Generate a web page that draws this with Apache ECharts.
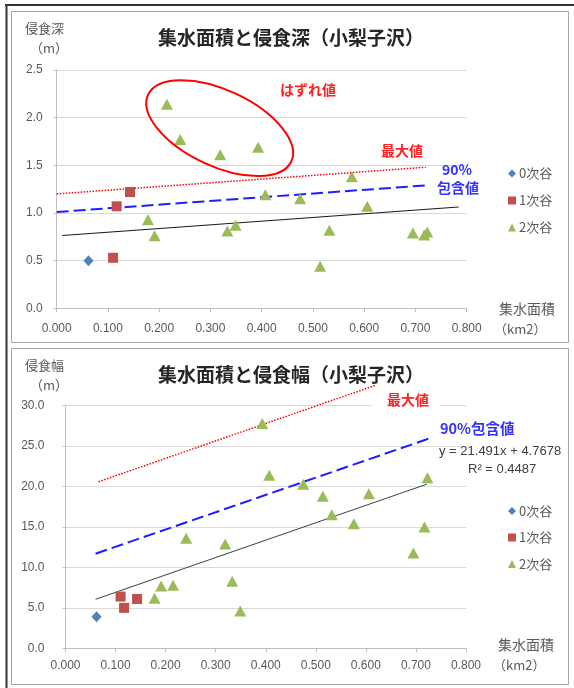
<!DOCTYPE html>
<html><head><meta charset="utf-8">
<script src="https://cdn.jsdelivr.net/npm/echarts@6/dist/echarts.min.js"></script>
<style>html,body{margin:0;padding:0;background:#fff;overflow:hidden}#c{width:574px;height:688px}</style>
</head><body><div id="c"></div>
<script>
// ---- data ----
const seriesNames = ['0次谷', '1次谷', '2次谷'];
const area0 = [0.062];
const depth0 = [0.50];
const width0 = [3.9];
const area1 = [0.110, 0.117, 0.143];
const depth1 = [0.53, 1.07, 1.22];
const width1 = [6.4, 5.0, 6.1];
const area2 = [0.178, 0.191, 0.215, 0.241, 0.319, 0.333, 0.349, 0.393, 0.407, 0.475, 0.514, 0.532, 0.576, 0.606, 0.695, 0.717, 0.723];
const depth2 = [0.93, 0.76, 2.14, 1.77, 1.61, 0.81, 0.87, 1.69, 1.19, 1.15, 0.44, 0.82, 1.38, 1.07, 0.79, 0.77, 0.80];
const width2 = [6.2, 7.7, 7.8, 13.6, 12.9, 8.3, 4.6, 27.8, 21.4, 20.3, 18.8, 16.5, 15.4, 19.1, 11.8, 15.0, 21.1];
// reference lines (end points)
const depthTrend = [[0.011, 0.764], [0.784, 1.063]];
const depthMax = [[0.0, 1.20], [0.720, 1.48]];
const depth90 = [[0.0, 1.01], [0.722, 1.29]];
const widthTrend = [[0.060, 6.06], [0.722, 20.3]];
const widthMax = [[0.066, 20.6], [0.618, 32.5]];
const width90 = [[0.060, 11.7], [0.729, 26.0]];
const titles = ['集水面積と侵食深（小梨子沢）', '集水面積と侵食幅（小梨子沢）'];
const yNames = ['侵食深', '侵食幅'];
const equationText = ['y = 21.491x + 4.7678', 'R² = 0.4487'];

const zip = (xs, ys) => xs.map((x, i) => [x, ys[i]]);
const FONT = '"Noto Sans CJK JP", "Noto Sans", sans-serif';
const NUMFONT = '"Liberation Sans", "Noto Sans", sans-serif';
const LBL = '#595959';
const colors = ['#4F81BD', '#C0504D', '#9BBB59'];
const symbols = ['diamond', 'rect', 'triangle'];
const sizes = [[10, 11], [10, 10], [12, 11]];

const chart = echarts.init(document.getElementById('c'), null, {renderer: 'canvas'});

function xAxis(grid, margin) {
  return {
    type: 'value', gridIndex: grid, min: 0, max: 0.8, interval: 0.1,
    axisLine: {show: true, lineStyle: {color: '#BFBFBF', width: 1}},
    axisTick: {show: true, length: 4, lineStyle: {color: '#BFBFBF'}},
    splitLine: {show: false},
    axisLabel: {formatter: v => v.toFixed(3), color: LBL, fontSize: 12, fontFamily: NUMFONT, margin: margin}
  };
}
function yAxis(grid, max, interval, margin) {
  return {
    type: 'value', gridIndex: grid, min: 0, max: max, interval: interval,
    axisLine: {show: true, lineStyle: {color: '#BFBFBF', width: 1}},
    axisTick: {show: true, length: 3, lineStyle: {color: '#BFBFBF'}},
    splitLine: {show: true, lineStyle: {color: '#D9D9D9', width: 1}},
    axisLabel: {formatter: v => v.toFixed(1), color: LBL, fontSize: 12, fontFamily: NUMFONT, margin: margin}
  };
}
function scatter(name, i, grid, data) {
  return {
    name: name, type: 'scatter', xAxisIndex: grid, yAxisIndex: grid, data: data,
    symbol: symbols[i], symbolSize: sizes[i], z: 5,
    itemStyle: {color: colors[i], opacity: 1}
  };
}
function refLine(grid, data, color, width, type, clip) {
  return {
    type: 'line', xAxisIndex: grid, yAxisIndex: grid, data: data, symbol: 'none',
    silent: true, clip: clip, z: 3,
    lineStyle: {color: color, width: width, type: type}
  };
}
function txt(x, y, s, opt) {
  return {
    type: 'text', x: x, y: y, z: 100,
    style: Object.assign({text: s, fill: LBL, font: '12px ' + FONT, textAlign: 'left', textVerticalAlign: 'middle'}, opt || {})
  };
}
function legend(top, gap) {
  return {data: seriesNames, orient: 'vertical', left: 508, top: top, padding: 0, itemGap: gap,
    itemWidth: 8, itemHeight: 8, selectedMode: false,
    textStyle: {color: LBL, fontSize: 13, fontFamily: FONT, padding: [0, 0, 0, -2]}};
}

const option = {
  animation: false,
  backgroundColor: '#fff',
  grid: [
    {left: 56.7, top: 70, width: 410, height: 238.3},
    {left: 65.5, top: 405.7, width: 400.5, height: 242.6}
  ],
  xAxis: [xAxis(0, 14), xAxis(1, 11)],
  yAxis: [yAxis(0, 2.5, 0.5, 14), yAxis(1, 30, 5, 21)],
  legend: [legend(167, 14), legend(504.5, 13.5)],
  series: [
    refLine(0, depthTrend, '#1A1A1A', 1.2, 'solid', true),
    refLine(0, depthMax, '#FF0000', 1.5, [1.5, 1.5], true),
    refLine(0, depth90, '#1E1EFF', 2, [12, 5], true),
    scatter(seriesNames[0], 0, 0, zip(area0, depth0)),
    scatter(seriesNames[1], 1, 0, zip(area1, depth1)),
    scatter(seriesNames[2], 2, 0, zip(area2, depth2)),
    refLine(1, widthTrend, '#404040', 1, 'solid', true),
    refLine(1, widthMax, '#FF0000', 1.5, [1.5, 1.5], false),
    refLine(1, width90, '#1E1EFF', 2, [12, 5], true),
    scatter(seriesNames[0], 0, 1, zip(area0, width0)),
    scatter(seriesNames[1], 1, 1, zip(area1, width1)),
    scatter(seriesNames[2], 2, 1, zip(area2, width2))
  ]
};
chart.setOption(option);

// annotations placed from data coordinates
const c = chart.convertToPixel({gridIndex: 0}, [0.318, 1.89]);
const graphics = [
  // frames
  {type: 'line', z: 0, shape: {x1: 5, y1: 5, x2: 574, y2: 5}, style: {stroke: '#333', lineWidth: 2}},
  {type: 'line', z: 0, shape: {x1: 6.5, y1: 5, x2: 6.5, y2: 688}, style: {stroke: '#333', lineWidth: 2}},
  {type: 'rect', z: 0, shape: {x: 11.5, y: 11.5, width: 557, height: 331}, style: {fill: null, stroke: '#A6A6A6', lineWidth: 1}},
  {type: 'rect', z: 0, shape: {x: 11.5, y: 348.5, width: 557, height: 336}, style: {fill: null, stroke: '#A6A6A6', lineWidth: 1}},
  // titles
  txt(291, 38, titles[0], {fill: '#262626', font: 'bold 19px ' + FONT, textAlign: 'center'}),
  txt(291, 375, titles[1], {fill: '#262626', font: 'bold 19px ' + FONT, textAlign: 'center'}),
  // y names
  txt(25, 28, yNames[0], {font: '13px ' + FONT}),
  txt(30, 48, '（m）', {font: '13px ' + FONT}),
  txt(25, 365, yNames[1], {font: '13px ' + FONT}),
  txt(30, 385, '（m）', {font: '13px ' + FONT}),
  // x names
  txt(499, 309, '集水面積', {font: '14px ' + FONT}),
  txt(494, 329, '（km2）', {font: '13px ' + FONT}),
  txt(498, 645, '集水面積', {font: '14px ' + FONT}),
  txt(493, 665, '（km2）', {font: '13px ' + FONT}),
  // top annotations
  {type: 'ellipse', z: 50, x: c[0], y: c[1], rotation: -25 * Math.PI / 180,
   shape: {cx: 0, cy: 0, rx: 79, ry: 38}, style: {fill: null, stroke: '#FF0000', lineWidth: 2}},
  txt(280, 90, 'はずれ値', {fill: '#FF2020', font: 'bold 14px ' + FONT}),
  txt(381, 151, '最大値', {fill: '#FF2020', font: 'bold 14px ' + FONT}),
  txt(457, 170, '90%', {fill: '#3333FF', font: 'bold 14px ' + FONT, textAlign: 'center'}),
  txt(458, 188, '包含値', {fill: '#3333FF', font: 'bold 14px ' + FONT, textAlign: 'center'}),
  // bottom annotations
  txt(372, 400, '最大値', {fill: '#FF2020', font: 'bold 14px ' + FONT, backgroundColor: '#fff', padding: [2, 11, 2, 15]}),
  txt(440, 428, '90%包含値', {fill: '#3333FF', font: 'bold 14.5px ' + FONT}),
  txt(439, 451, equationText[0], {fill: '#404040', font: '13px ' + NUMFONT}),
  txt(468, 469, equationText[1], {fill: '#404040', font: '13px ' + NUMFONT})
];
chart.setOption({graphic: graphics});
</script>
</body></html>
